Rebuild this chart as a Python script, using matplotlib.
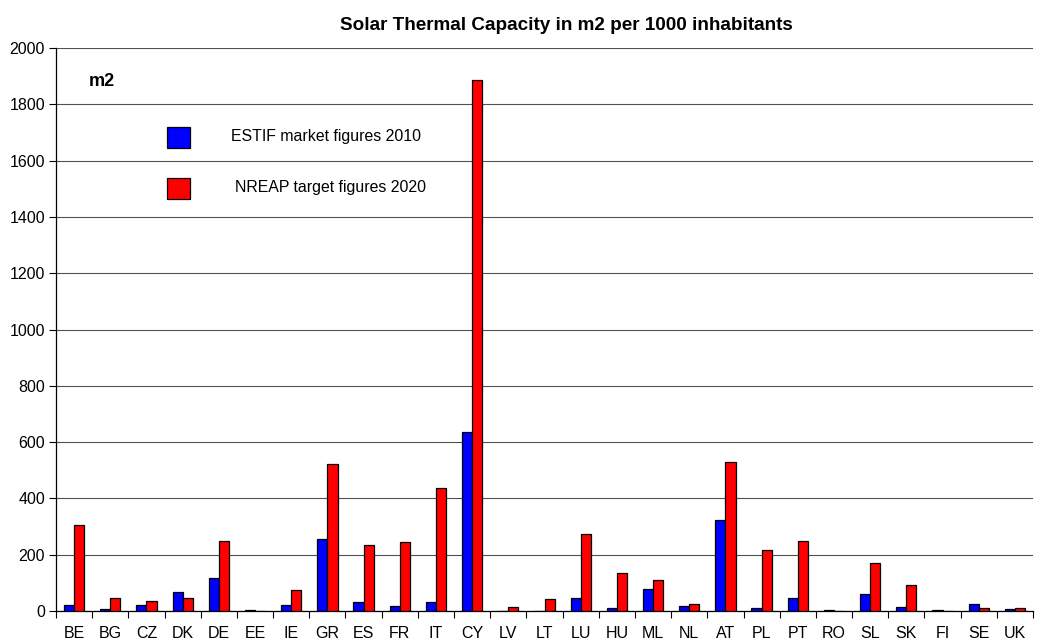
import matplotlib
matplotlib.use("Agg")
import matplotlib.pyplot as plt
import numpy as np
from matplotlib.patches import Rectangle

countries = ["BE", "BG", "CZ", "DK", "DE", "EE", "IE", "GR", "ES", "FR", "IT", "CY", "LV", "LT",
             "LU", "HU", "ML", "NL", "AT", "PL", "PT", "RO", "SL", "SK", "FI", "SE", "UK"]
estif_2010 = [21, 8, 20, 68, 118, 3, 20, 255, 32, 18, 32, 635, 1, 1,
              45, 11, 77, 18, 323, 11, 45, 5, 62, 15, 5, 25, 6]
nreap_2020 = [307, 45, 35, 47, 248, 0, 75, 521, 233, 245, 436, 1885, 13, 43,
              275, 135, 111, 24, 530, 218, 248, 0, 170, 92, 0, 11, 10]

title = "Solar Thermal Capacity in m2 per 1000 inhabitants"
unit_label = "m2"
legend_labels = ["ESTIF market figures 2010", "NREAP target figures 2020"]
yticks = [0, 200, 400, 600, 800, 1000, 1200, 1400, 1600, 1800, 2000]

plt.rcParams['font.family'] = ['Liberation Sans', 'DejaVu Sans']

fig = plt.figure(figsize=(10.37, 6.41), dpi=100)
ax = fig.add_axes([56/1037, 1 - 611/641, (1033-56)/1037, (611-48)/641])

x = np.arange(len(countries))
w = 0.28
ax.bar(x - w/2, estif_2010, width=w, color="#0000ff", edgecolor="black", linewidth=0.9, zorder=3)
ax.bar(x + w/2, nreap_2020, width=w, color="#ff0000", edgecolor="black", linewidth=0.9, zorder=3)

ax.set_xlim(-0.5, len(countries) - 0.5)
ax.set_ylim(0, 2000)
ax.set_yticks(yticks)
ax.set_yticklabels([str(v) for v in yticks], fontsize=11.5)
ax.set_xticks(x)
ax.set_xticklabels(countries, fontsize=11.5)
ax.tick_params(axis='x', length=0, pad=11)
ax.set_xticks(np.arange(len(countries) + 1) - 0.5, minor=True)
ax.tick_params(axis='x', which='minor', length=5, width=0.8, direction='out')
ax.tick_params(axis='y', length=5, width=0.8, direction='out', pad=3)

ax.yaxis.grid(True, color="#505050", linewidth=0.8, zorder=0)
ax.set_axisbelow(True)
for s in ["top", "right"]:
    ax.spines[s].set_visible(False)
ax.spines["left"].set_linewidth(0.9)
ax.spines["bottom"].set_linewidth(0.9)

fig.text(566/1037, 1 - 25/641, title, fontsize=13.6, fontweight="bold", ha="center", va="center")
fig.text(89/1037, 1 - 81/641, unit_label, fontsize=13, fontweight="bold", ha="left", va="center")

colors = ["#0000ff", "#ff0000"]
ys = [137, 188]
text_x = [231, 235]
for c, yy, lbl, tx in zip(colors, ys, legend_labels, text_x):
    fig.patches.append(Rectangle((167/1037, 1 - (yy+11)/641), 23/1037, 21/641,
                                 transform=fig.transFigure, facecolor=c, edgecolor="black",
                                 linewidth=0.9, figure=fig))
    fig.text(tx/1037, 1 - yy/641, lbl, fontsize=11.4, ha="left", va="center")

fig.savefig("out.png", dpi=100)
